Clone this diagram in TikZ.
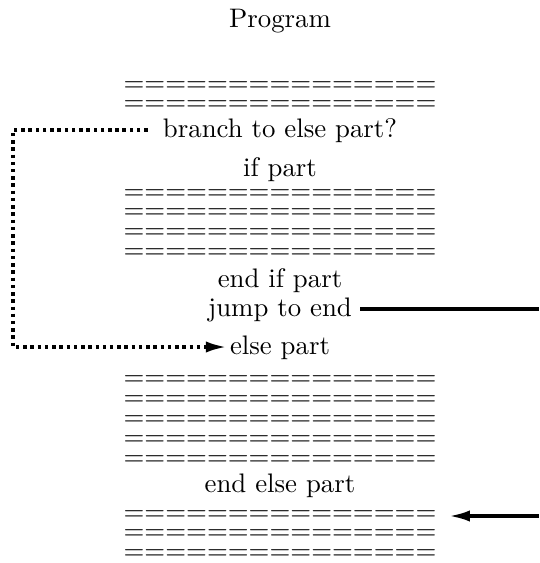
\documentclass[tikz,border=0pt]{standalone}
\usetikzlibrary{arrows.meta,positioning}
\tikzset{
    codeline/.style={inner sep=1pt, text height=1.5ex, text depth=.25ex},
    eqline/.style={inner sep=0pt},
    branchline/.style={line width=1.3pt, dash pattern=on 1.3pt off 1.4pt},
    jumpline/.style={line width=1.25pt},
    tipA/.style={-{Latex[length=7.8pt,width=4.2pt]}}
}
\begin{document}
\begin{tikzpicture}[x=0.3731pt,y=-0.3731pt]
    \def \eqs {===============}
    \def \cx {280}
    \useasboundingbox (0,0) rectangle (539,563);
    \coordinate (lft) at (13,0);
    \coordinate (rgt) at (539,0);
    \node[codeline] (prog) at (\cx,20) {Program};
    % code before the if
    \node[eqline] (top1) at (\cx,87) {\eqs};
    \node[eqline] (top2) at (\cx,106) {\eqs};
    \node[codeline] (branch) at (\cx,130) {branch to else part?};
    \node[codeline] (ifp) at (\cx,169) {if part};
    \node[eqline] (if1) at (\cx,195) {\eqs};
    \node[eqline] (if2) at (\cx,214) {\eqs};
    \node[eqline] (if3) at (\cx,234) {\eqs};
    \node[eqline] (if4) at (\cx,254) {\eqs};
    \node[codeline] (endif) at (\cx,280) {end if part};
    \node[codeline] (jump) at (\cx,309) {jump to end};
    \node[codeline] (elsep) at (\cx,347) {else part};
    \node[eqline] (else1) at (\cx,381) {\eqs};
    \node[eqline] (else2) at (\cx,401) {\eqs};
    \node[eqline] (else3) at (\cx,421) {\eqs};
    \node[eqline] (else4) at (\cx,441) {\eqs};
    \node[eqline] (else5) at (\cx,461) {\eqs};
    \node[codeline] (endelse) at (\cx,485) {end else part};
    % code after the if
    \node[eqline] (tail1) at (\cx,516) {\eqs};
    \node[eqline] (tail2) at (\cx,535) {\eqs};
    \node[eqline] (tail3) at (\cx,555) {\eqs};
    \draw[branchline, tipA, shorten <=4.5pt] (branch.west) -- (lft |- branch.west) |- (elsep.west);
    \draw[jumpline, shorten <=2pt] (jump.east) -- (jump.east -| rgt);
    \draw[jumpline, tipA, shorten >=4.5pt] (tail1.east -| rgt) -- (tail1.east);
\end{tikzpicture}
\end{document}
